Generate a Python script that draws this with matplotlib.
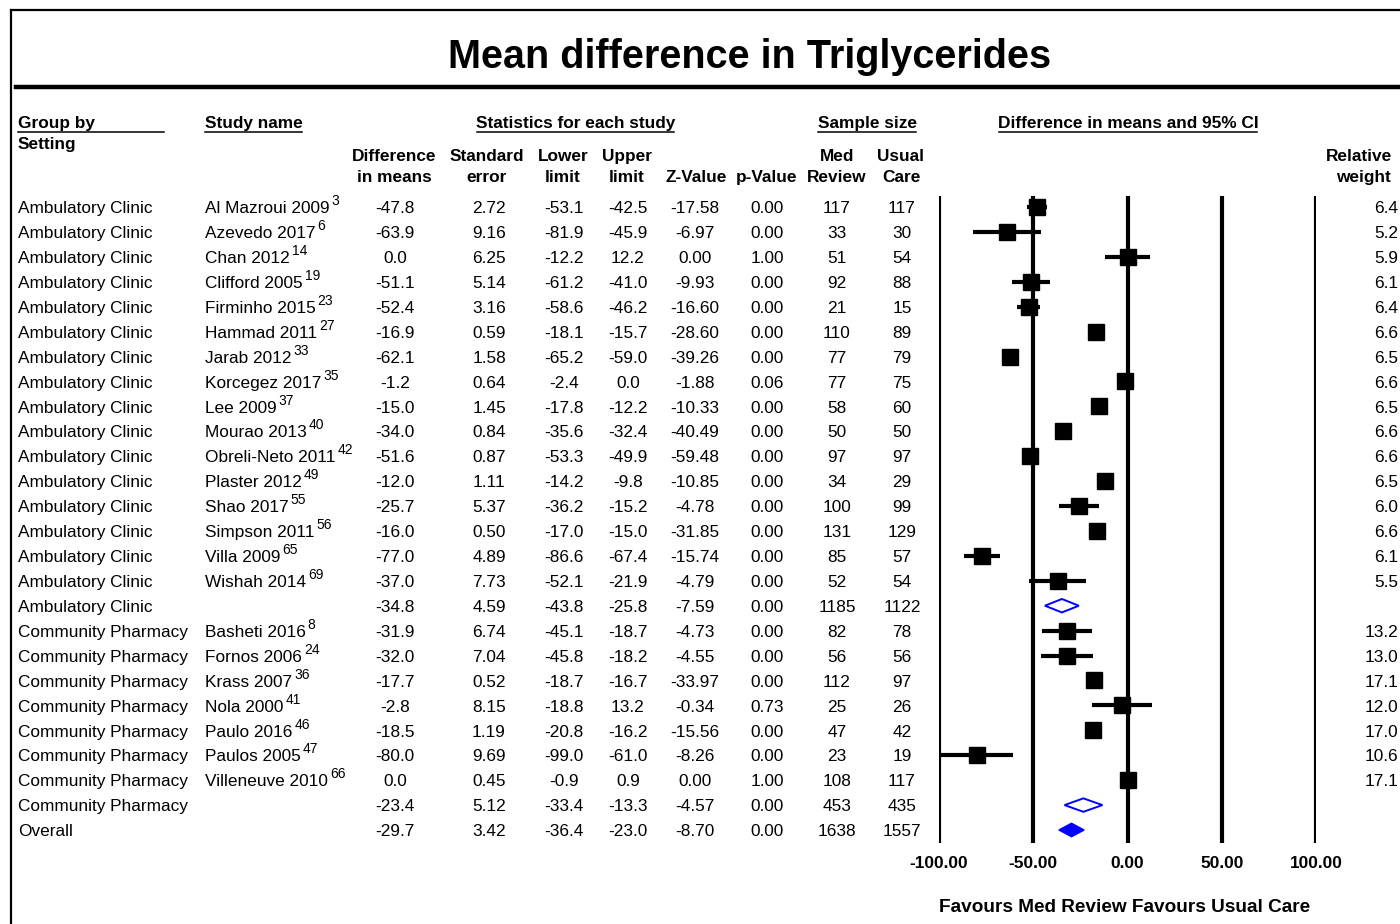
import numpy as np
import matplotlib.pyplot as plt

plt.rcParams['font.family'] = ['Liberation Sans', 'DejaVu Sans']

# ---- data ----
groups = ["Ambulatory Clinic"] * 17 + ["Community Pharmacy"] * 8 + ["Overall"]
studies = ["Al Mazroui 2009", "Azevedo 2017", "Chan 2012", "Clifford 2005", "Firminho 2015",
           "Hammad 2011", "Jarab 2012", "Korcegez 2017", "Lee 2009", "Mourao 2013",
           "Obreli-Neto 2011", "Plaster 2012", "Shao 2017", "Simpson 2011", "Villa 2009",
           "Wishah 2014", "",
           "Basheti 2016", "Fornos 2006", "Krass 2007", "Nola 2000", "Paulo 2016",
           "Paulos 2005", "Villeneuve 2010", "", ""]
refs = ["3", "6", "14", "19", "23", "27", "33", "35", "37", "40", "42", "49", "55", "56", "65", "69", "",
        "8", "24", "36", "41", "46", "47", "66", "", ""]
diff = [-47.8, -63.9, 0.0, -51.1, -52.4, -16.9, -62.1, -1.2, -15.0, -34.0, -51.6, -12.0, -25.7,
        -16.0, -77.0, -37.0, -34.8, -31.9, -32.0, -17.7, -2.8, -18.5, -80.0, 0.0, -23.4, -29.7]
se = [2.72, 9.16, 6.25, 5.14, 3.16, 0.59, 1.58, 0.64, 1.45, 0.84, 0.87, 1.11, 5.37, 0.50, 4.89,
      7.73, 4.59, 6.74, 7.04, 0.52, 8.15, 1.19, 9.69, 0.45, 5.12, 3.42]
lower = [-53.1, -81.9, -12.2, -61.2, -58.6, -18.1, -65.2, -2.4, -17.8, -35.6, -53.3, -14.2, -36.2,
         -17.0, -86.6, -52.1, -43.8, -45.1, -45.8, -18.7, -18.8, -20.8, -99.0, -0.9, -33.4, -36.4]
upper = [-42.5, -45.9, 12.2, -41.0, -46.2, -15.7, -59.0, 0.0, -12.2, -32.4, -49.9, -9.8, -15.2,
         -15.0, -67.4, -21.9, -25.8, -18.7, -18.2, -16.7, 13.2, -16.2, -61.0, 0.9, -13.3, -23.0]
zval = [-17.58, -6.97, 0.00, -9.93, -16.60, -28.60, -39.26, -1.88, -10.33, -40.49, -59.48, -10.85,
        -4.78, -31.85, -15.74, -4.79, -7.59, -4.73, -4.55, -33.97, -0.34, -15.56, -8.26, 0.00,
        -4.57, -8.70]
pval = [0.00, 0.00, 1.00, 0.00, 0.00, 0.00, 0.00, 0.06, 0.00, 0.00, 0.00, 0.00, 0.00, 0.00, 0.00,
        0.00, 0.00, 0.00, 0.00, 0.00, 0.73, 0.00, 0.00, 1.00, 0.00, 0.00]
n_med = [117, 33, 51, 92, 21, 110, 77, 77, 58, 50, 97, 34, 100, 131, 85, 52, 1185,
         82, 56, 112, 25, 47, 23, 108, 453, 1638]
n_usual = [117, 30, 54, 88, 15, 89, 79, 75, 60, 50, 97, 29, 99, 129, 57, 54, 1122,
           78, 56, 97, 26, 42, 19, 117, 435, 1557]
weight = [6.4, 5.2, 5.9, 6.1, 6.4, 6.6, 6.5, 6.6, 6.5, 6.6, 6.6, 6.5, 6.0, 6.6, 6.1, 5.5, None,
          13.2, 13.0, 17.1, 12.0, 17.0, 10.6, 17.1, None, None]
# row kind: study, subgroup summary, overall summary
kind = ["study"] * 16 + ["sub"] + ["study"] * 7 + ["sub", "overall"]
ticks = [-100, -50, 0, 50, 100]

W, H = 1400, 924
row0, row_h = 207, 24.92
fs = 12.4
base_off = 6.2   # text baseline below row centre, px

fig = plt.figure(figsize=(W / 100, H / 100), dpi=100)
renderer = fig.canvas.get_renderer()

# pixel-space layer for table text and frame
tab = fig.add_axes([0, 0, 1, 1])
tab.set_xlim(0, W)
tab.set_ylim(H, 0)
tab.axis('off')

# frame and title rule
tab.plot([11, W], [10, 10], color='k', lw=1.6)
tab.plot([11, 11], [10, H], color='k', lw=1.6)
tab.plot([16, W], [87, 87], color='k', lw=3.2)
tab.text(750, 68.5, "Mean difference in Triglycerides", ha='center', va='baseline',
         fontsize=28.5, fontweight='bold')

# column group headers (underlined)
hdr_y = 122
for txt, x, ha, ul in [("Group by", 18, 'left', (18, 164)),
                       ("Study name", 205, 'left', (205, 302)),
                       ("Statistics for each study", 575.5, 'center', (477, 674)),
                       ("Sample size", 867, 'center', (818, 916)),
                       ("Difference in means and 95% CI", 1128, 'center', (999, 1257))]:
    tab.text(x, hdr_y + base_off, txt, ha=ha, va='baseline', fontsize=fs, fontweight='bold')
    tab.plot(ul, [131.5, 131.5], color='k', lw=1.1)
tab.text(18, 143 + base_off, "Setting", ha='left', va='baseline', fontsize=fs, fontweight='bold')

col_x = [395, 489, 564, 628, 695, 767, 837, 902]
sub_hdr = [("Difference", "in means"), ("Standard", "error"), ("Lower", "limit"),
           ("Upper", "limit"), ("", "Z-Value"), ("", "p-Value"), ("Med", "Review"),
           ("Usual", "Care")]
hdr_x = [394, 487, 563, 627, 696, 767, 837, 901]
for x, (a, b) in zip(hdr_x, sub_hdr):
    tab.text(x, 155 + base_off, a, ha='center', va='baseline', fontsize=fs, fontweight='bold')
    tab.text(x, 176 + base_off, b, ha='center', va='baseline', fontsize=fs, fontweight='bold')
tab.text(1392, 155 + base_off, "Relative", ha='right', va='baseline', fontsize=fs, fontweight='bold')
tab.text(1391, 176 + base_off, "weight", ha='right', va='baseline', fontsize=fs, fontweight='bold')

# table rows
for i in range(len(groups)):
    y = row0 + i * row_h + base_off
    tab.text(18, y, groups[i], ha='left', va='baseline', fontsize=fs)
    if studies[i]:
        t = tab.text(205, y, studies[i], ha='left', va='baseline', fontsize=fs)
        bb = t.get_window_extent(renderer=renderer)
        tab.text(bb.x1 + 2, y - 8, refs[i], ha='left', va='baseline', fontsize=10)
    vals = ["%.1f" % diff[i], "%.2f" % se[i], "%.1f" % lower[i], "%.1f" % upper[i],
            "%.2f" % zval[i], "%.2f" % pval[i], str(n_med[i]), str(n_usual[i])]
    for x, v in zip(col_x, vals):
        tab.text(x, y, v, ha='center', va='baseline', fontsize=fs)
    if weight[i] is not None:
        tab.text(1398, y, "%.1f" % weight[i], ha='right', va='baseline', fontsize=fs)

tab.text(1125, 905 + 6.8, "Favours Med Review Favours Usual Care", ha='center', va='baseline',
         fontsize=13.7, fontweight='bold')

# forest plot axes
x0, x1 = 939, 1316
y_top, y_bot = 196, 843
ax = fig.add_axes([x0 / W, (H - y_bot) / H, (x1 - x0) / W, (y_bot - y_top) / H])
ax.set_xlim(-100, 100)
ax.set_ylim((y_bot - row0) / row_h, (y_top - row0) / row_h)
ax.patch.set_alpha(0)
for s in ax.spines.values():
    s.set_visible(False)
ax.set_yticks([])
ax.set_xticks(ticks)
ax.set_xticklabels(["%.2f" % t for t in ticks], fontsize=fs, fontweight='bold')
ax.tick_params(axis='x', length=0, pad=9.5)
for t in ticks:
    ax.axvline(t, color='k', lw=3, zorder=1)

rows = np.arange(len(diff))
dh = 0.27
for i in rows:
    if kind[i] == "study":
        ax.hlines(i, lower[i], upper[i], color='k', lw=3, zorder=2)
        ax.plot(diff[i], i, 's', color='k', ms=12.2, zorder=3)
    else:
        xs = [lower[i], diff[i], upper[i], diff[i], lower[i]]
        ys = [i, i - dh, i, i + dh, i]
        if kind[i] == "overall":
            ax.fill(xs, ys, color='#0000ff', lw=1, zorder=3)
        else:
            ax.fill(xs, ys, facecolor='white', edgecolor='#0000ff', lw=1.4, zorder=3)

fig.savefig("out.png", dpi=100)
